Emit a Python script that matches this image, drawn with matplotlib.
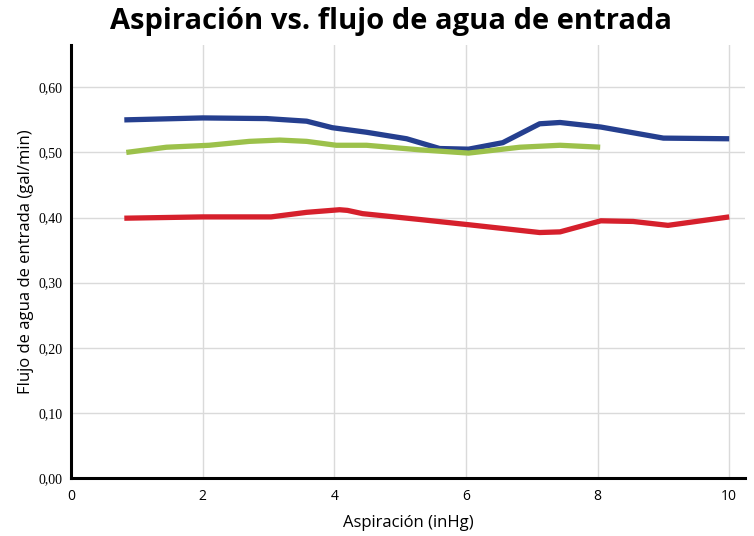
import matplotlib
matplotlib.use("Agg")
import matplotlib.pyplot as plt

# Data
blue_x = [0.81, 2.0, 2.97, 3.58, 3.97, 4.49, 5.1, 5.3, 5.6, 6.04, 6.56, 7.12, 7.43, 8.05, 9.0, 10.0]
blue_y = [0.550, 0.553, 0.552, 0.548, 0.538, 0.531, 0.521, 0.515, 0.506, 0.505, 0.515, 0.544, 0.546, 0.539, 0.522, 0.521]

green_x = [0.84, 1.45, 2.1, 2.71, 3.17, 3.58, 4.03, 4.49, 5.3, 6.04, 6.82, 7.43, 8.04]
green_y = [0.500, 0.508, 0.511, 0.517, 0.519, 0.517, 0.511, 0.511, 0.504, 0.499, 0.508, 0.511, 0.508]

red_x = [0.81, 2.0, 3.04, 3.58, 4.08, 4.2, 4.43, 5.3, 6.04, 7.12, 7.43, 8.05, 8.54, 9.07, 10.0]
red_y = [0.399, 0.401, 0.401, 0.408, 0.412, 0.411, 0.406, 0.397, 0.389, 0.377, 0.378, 0.395, 0.394, 0.388, 0.401]

x_ticks = [0, 2, 4, 6, 8, 10]
y_ticks = [0.0, 0.1, 0.2, 0.3, 0.4, 0.5, 0.6]
y_tick_labels = ["0,00", "0,10", "0,20", "0,30", "0,40", "0,50", "0,60"]

title = "Aspiración vs. flujo de agua de entrada"
xlabel = "Aspiración (inHg)"
ylabel = "Flujo de agua de entrada (gal/min)"

fig = plt.figure(figsize=(7.54, 5.36), dpi=100)
ax = fig.add_axes([71/754, 1-478/536, (745-71)/754, (478-45)/536])

lw = 3.8
ax.plot(blue_x, blue_y, color="#253f8f", lw=lw, solid_capstyle="butt", solid_joinstyle="round", zorder=3)
ax.plot(green_x, green_y, color="#9cc14b", lw=lw, solid_capstyle="butt", solid_joinstyle="round", zorder=3)
ax.plot(red_x, red_y, color="#d6202c", lw=lw, solid_capstyle="butt", solid_joinstyle="round", zorder=3)

ax.set_xlim(0, 10.24)
ax.set_ylim(0, 0.665)
ax.set_xticks(x_ticks)
ax.set_xticklabels([str(v) for v in x_ticks], fontsize=10, family="Open Sans")
ax.set_yticks(y_ticks)
ax.set_yticklabels(y_tick_labels, fontsize=10, family="Liberation Serif")
ax.tick_params(axis="y", length=0, pad=6)
ax.tick_params(axis="x", length=0, pad=8)

ax.grid(True, color="#dadada", lw=1)
ax.set_axisbelow(True)
for s in ["top", "right"]:
    ax.spines[s].set_visible(False)
for s in ["left", "bottom"]:
    ax.spines[s].set_linewidth(2.2)
    ax.spines[s].set_color("black")

ax.set_xlabel(xlabel, fontsize=12, family="Open Sans", labelpad=8)
ax.set_ylabel(ylabel, fontsize=12, family="Open Sans", labelpad=3)

fig.text(391/754, 1-22/536, title, ha="center", va="center", fontsize=21, fontweight="bold", family="Open Sans")

fig.savefig("out.png", dpi=100)
